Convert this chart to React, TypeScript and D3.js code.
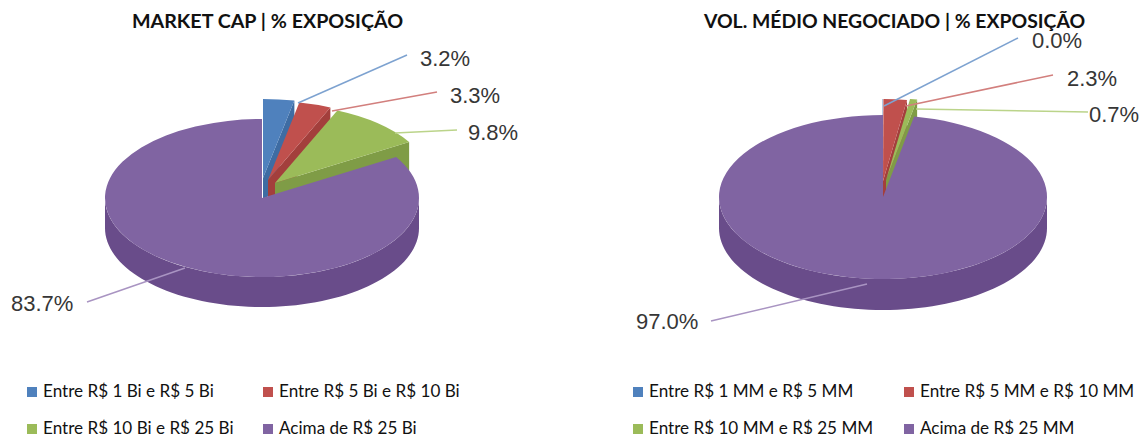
import * as d3 from "d3";

const WIDTH = 1140;
const HEIGHT = 434;

// valores
const marketCapValues = [3.2, 3.3, 9.8, 83.7];
const volumeValues = [0.04, 2.3, 0.7, 97.0];
const marketCapCategories = ["Entre R$ 1 Bi e R$ 5 Bi", "Entre R$ 5 Bi e R$ 10 Bi", "Entre R$ 10 Bi e R$ 25 Bi", "Acima de R$ 25 Bi"];
const volumeCategories = ["Entre R$ 1 MM e R$ 5 MM", "Entre R$ 5 MM e R$ 10 MM", "Entre R$ 10 MM e R$ 25 MM", "Acima de R$ 25 MM"];

const topColors = ["#4F81BD", "#C0504D", "#9BBB59", "#8064A2"];
const wallColors = ["#3E6CA3", "#A33F3C", "#7F9C46", "#694C8A"];
const leaderColors = ["#7DA2D0", "#D27F7D", "#BBD48A", "#A994C2"];

const FONT_TEXT = "Lato, 'Open Sans', sans-serif";
const FONT_LABEL = "'Liberation Sans', Arial, sans-serif";

const marketCapLayout = {
  title: "MARKET CAP | % EXPOSIÇÃO",
  titleX: 267.5,
  titleSize: 19.7,
  cx: 262,
  cy: 198,
  rx: 157,
  ry: 79,
  depth: 30,
  explode: [[1, -20], [6, -18], [13, -15], [0, 0]],
  leaders: [[[298, 103], [407, 55]], [[332, 111], [437, 92]], [[395, 133], [457, 130]], [[185, 268], [87, 302]]],
  labels: [[420, 58], [450, 95], [468, 132], [11, 303]],
  legendX: [27, 263],
};

const volumeLayout = {
  title: "VOL. MÉDIO NEGOCIADO | % EXPOSIÇÃO",
  titleX: 894.5,
  titleSize: 19.4,
  cx: 883,
  cy: 197,
  rx: 164,
  ry: 82,
  depth: 31,
  explode: [[-1, -16], [0, -16], [3, -17], [0, 0]],
  leaders: [[[884, 106], [1018, 38]], [[906, 106], [1053, 75]], [[916, 109], [1088, 112]], [[867, 284], [711, 321]]],
  labels: [[1032, 40], [1067, 78], [1089, 114], [636, 321]],
  legendX: [633, 904],
};

type Layout = typeof marketCapLayout;

function Pie3D({ values, categories, layout }: { values: number[]; categories: string[]; layout: Layout }) {
  const { cx, cy, rx, ry, depth } = layout;
  const pie = d3.pie<number>().sort(null).value((d) => d);
  const arc = d3.arc<d3.PieArcDatum<number>>().innerRadius(0).outerRadius(rx);
  const slices = pie(values);
  const px = (a: number) => Math.sin(a) * rx;
  const py = (a: number) => -Math.cos(a) * ry;
  const line = d3.line();

  return (
    <g>
      <text x={layout.titleX} y={28} textAnchor="middle" fontFamily={FONT_TEXT} fontWeight={700} fontSize={layout.titleSize} fill="#111">
        {layout.title}
      </text>

      {slices.map((s, i) => {
        const [dx, dy] = layout.explode[i];
        const x0 = cx + dx;
        const y0 = cy + dy;
        const from = Math.max(s.startAngle, Math.PI / 2);
        const to = Math.min(s.endAngle, (3 * Math.PI) / 2);
        let rim: string | null = null;
        if (to > from) {
          const top = d3.range(0, 73).map((k) => from + ((to - from) * k) / 72);
          const pts: [number, number][] = [
            ...top.map((a) => [x0 + px(a), y0 + py(a)] as [number, number]),
            ...top.reverse().map((a) => [x0 + px(a), y0 + py(a) + depth] as [number, number]),
          ];
          rim = line(pts) + "Z";
        }
        // face de corte no fim da fatia, visivel so do lado direito
        let cut: string | null = null;
        if (Math.sin(s.endAngle) > 0) {
          const ex = x0 + px(s.endAngle);
          const ey = y0 + py(s.endAngle);
          cut = line([[x0, y0], [ex, ey], [ex, ey + depth], [x0, y0 + depth]]) + "Z";
        }
        return (
          <g key={categories[i]}>
            {cut && <path d={cut} fill={wallColors[i]} />}
            {rim && <path d={rim} fill={wallColors[i]} />}
            <path
              d={arc(s) as string}
              transform={`translate(${x0},${y0}) scale(1,${ry / rx})`}
              fill={topColors[i]}
            />
          </g>
        );
      })}

      {layout.leaders.map((seg, i) => (
        <path key={i} d={line(seg as [number, number][]) as string} fill="none" stroke={leaderColors[i]} strokeWidth={1.5} />
      ))}

      {values.map((v, i) => (
        <text
          key={i}
          x={layout.labels[i][0]}
          y={layout.labels[i][1]}
          dy="0.36em"
          fontFamily={FONT_LABEL}
          fontSize={22}
          fill="#363636"
        >
          {d3.format(".1f")(v)}%
        </text>
      ))}

      {categories.map((c, i) => {
        const x = layout.legendX[i % 2];
        const y = i < 2 ? 387 : 424;
        return (
          <g key={c}>
            <rect x={x} y={y} width={10} height={10} fill={topColors[i]} />
            <text x={x + 16} y={y + 9.5} fontFamily={FONT_TEXT} fontSize={17.1} fill="#111">
              {c}
            </text>
          </g>
        );
      })}
    </g>
  );
}

export default function App() {
  return (
    <svg
      width={WIDTH}
      height={HEIGHT}
      style={{ position: "absolute", left: 0, top: 0, background: "#fff" }}
    >
      <Pie3D values={marketCapValues} categories={marketCapCategories} layout={marketCapLayout} />
      <Pie3D values={volumeValues} categories={volumeCategories} layout={volumeLayout} />
    </svg>
  );
}
